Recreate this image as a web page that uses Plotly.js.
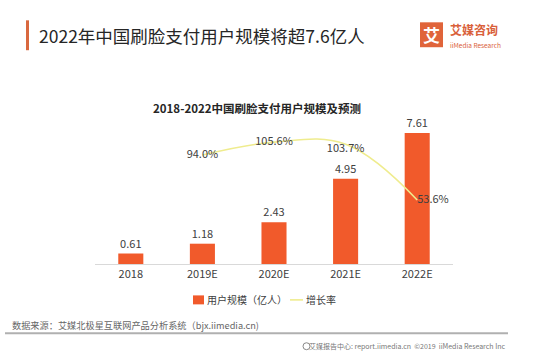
<!DOCTYPE html>
<html>
<head>
<meta charset="utf-8">
<script src="https://cdn.plot.ly/plotly-3.0.1.min.js"></script>
<style>html,body{margin:0;padding:0;background:#fff;}#chart{width:560px;height:359px;}</style>
</head>
<body>
<div id="chart"></div>
<script>
const categories = ["2018", "2019E", "2020E", "2021E", "2022E"];
const users = [0.61, 1.18, 2.43, 4.95, 7.61];
const userLabels = ["0.61", "1.18", "2.43", "4.95", "7.61"];
const growthCats = ["2019E", "2020E", "2021E", "2022E"];
const growth = [94.0, 105.6, 103.7, 53.6];
const growthLabels = ["94.0%", "105.6%", "103.7%", "53.6%"];
const seriesNames = ["用户规模（亿人）", "增长率"];

const font = "'Noto Sans CJK SC', 'Noto Sans', sans-serif";
const barColor = "#f15a2b";
const lineColor = "#efec8e";

const traces = [
  {
    type: "bar", name: seriesNames[0], x: categories, y: users,
    marker: {color: barColor},
    text: userLabels, textposition: "outside", cliponaxis: false,
    textfont: {size: 11, color: "#404040", family: font},
    hoverinfo: "skip"
  },
  {
    type: "scatter", mode: "lines+text", name: seriesNames[1], x: growthCats, y: growth,
    yaxis: "y2",
    line: {color: lineColor, width: 1.6, shape: "spline", smoothing: 1.1},
    text: growthLabels,
    textposition: ["middle center", "middle center", "bottom center", "middle right"],
    textfont: {size: 11, color: "#404040", family: font},
    cliponaxis: false, hoverinfo: "skip"
  }
];

// plot area in pixels: x 95..453, y 115..264.5
const L = 95, W = 358, B = 264.5, H = 149.5;
const px = x => (x - L) / W;
const py = y => (B - y) / H;

const layout = {
  width: 560, height: 359,
  paper_bgcolor: "#fff", plot_bgcolor: "#fff",
  margin: {l: 95, r: 107, t: 115, b: 94.5},
  font: {family: font, color: "#404040"},
  showlegend: false,
  bargap: 0.65,
  xaxis: {type: "category", showline: true, linecolor: "#d9d9d9", linewidth: 1,
    ticks: "", tickfont: {size: 11, color: "#404040", family: font}, showgrid: false, fixedrange: true},
  yaxis: {range: [0, 8.66], visible: false, showgrid: false, zeroline: false},
  yaxis2: {range: [-4, 130], overlaying: "y", side: "right", visible: false, showgrid: false, zeroline: false},
  shapes: [
    {type: "rect", xref: "paper", yref: "paper", x0: px(26), x1: px(29), y0: py(50), y1: py(20),
      fillcolor: "#d9683f", line: {width: 0}},
    {type: "rect", xref: "paper", yref: "paper", x0: px(420), x1: px(443), y0: py(47), y1: py(22),
      fillcolor: "#e0643a", line: {width: 0}},
    {type: "line", xref: "paper", yref: "paper", x0: px(5), x1: px(508), y0: py(334), y1: py(334),
      line: {color: "#b0b0b0", width: 2}},
    {type: "circle", xref: "paper", yref: "paper", x0: px(303), x1: px(310), y0: py(350.5), y1: py(343.5),
      line: {color: "#888", width: 1}},
    // legend markers
    {type: "rect", xref: "paper", yref: "paper", x0: px(193), x1: px(204), y0: py(305), y1: py(296),
      fillcolor: barColor, line: {width: 0}},
    {type: "line", xref: "paper", yref: "paper", x0: px(290), x1: px(303), y0: py(300.5), y1: py(300.5),
      line: {color: lineColor, width: 1.6}}
  ],
  annotations: [
    {xref: "paper", yref: "paper", x: px(37), y: py(35), xanchor: "left", yanchor: "middle",
      text: "2022年中国刷脸支付用户规模将超7.6亿人", showarrow: false,
      font: {size: 17.5, color: "#262626", family: font}},
    {xref: "paper", yref: "paper", x: px(257), y: py(108), xanchor: "center", yanchor: "middle",
      text: "<b>2018-2022中国刷脸支付用户规模及预测</b>", showarrow: false,
      font: {size: 11.5, color: "#262626", family: font}},
    {xref: "paper", yref: "paper", x: px(10), y: py(326), xanchor: "left", yanchor: "middle",
      text: "数据来源：艾媒北极星互联网产品分析系统（bjx.iimedia.cn)", showarrow: false,
      font: {size: 9.2, color: "#666", family: font}},
    {xref: "paper", yref: "paper", x: px(507), y: py(347), xanchor: "right", yanchor: "middle",
      text: "艾媒报告中心: report.iimedia.cn  ©2019  iiMedia Research Inc", showarrow: false,
      font: {size: 7, color: "#777", family: font}},
    {xref: "paper", yref: "paper", x: px(448), y: py(29), xanchor: "left", yanchor: "middle",
      text: "<b>艾媒咨询</b>", showarrow: false,
      font: {size: 12, color: "#d9603a", family: font}},
    {xref: "paper", yref: "paper", x: px(448), y: py(45), xanchor: "left", yanchor: "middle",
      text: "iiMedia Research", showarrow: false,
      font: {size: 6.5, color: "#d9603a", family: font}},
    {xref: "paper", yref: "paper", x: px(431.5), y: py(34.5), xanchor: "center", yanchor: "middle",
      text: "<b>艾</b>", showarrow: false,
      font: {size: 17, color: "#fff", family: font}},
    // legend labels
    {xref: "paper", yref: "paper", x: px(205), y: py(300.5), xanchor: "left", yanchor: "middle",
      text: seriesNames[0], showarrow: false,
      font: {size: 10, color: "#404040", family: font}},
    {xref: "paper", yref: "paper", x: px(304), y: py(300.5), xanchor: "left", yanchor: "middle",
      text: seriesNames[1], showarrow: false,
      font: {size: 10, color: "#404040", family: font}}
  ]
};

Plotly.newPlot("chart", traces, layout, {displayModeBar: false, staticPlot: true});
</script>
</body>
</html>
